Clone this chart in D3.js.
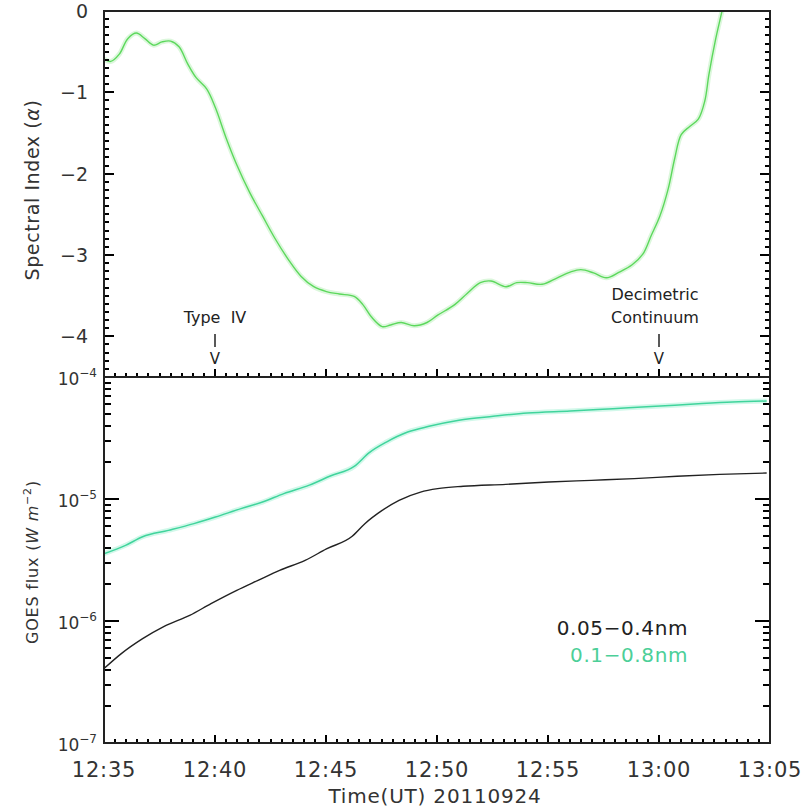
<!DOCTYPE html>
<html>
<head>
<meta charset="utf-8">
<script src="https://cdn.jsdelivr.net/npm/d3@7"></script>
<style>
  body { margin: 0; background: #fff; }
  text { font-family: "DejaVu Sans", sans-serif; fill: #333; }
</style>
</head>
<body>
<svg id="chart" width="802" height="809"></svg>
<script>
// minutes after 12:35 UT
const alphaTime = [0, 0.30, 0.69, 1.07, 1.46, 1.84, 2.23, 2.61, 3.0, 3.38, 3.77, 4.15, 4.63, 5.02, 5.50, 5.98, 6.56, 7.14, 7.71, 8.29, 8.87, 9.45, 10.02, 10.6, 11.27, 11.66, 12.04, 12.53, 12.91, 13.39, 13.97, 14.55, 15.03, 15.80, 16.37, 16.95, 17.43, 18.11, 18.59, 19.07, 19.74, 20.42, 21.0, 21.48, 22.05, 22.63, 23.21, 23.79, 24.27, 24.65, 25.04, 25.42, 25.71, 26.0, 26.38, 26.77, 27.06, 27.25, 27.54, 27.83, 28.0];
const alphaValue = [-0.59, -0.62, -0.53, -0.34, -0.27, -0.34, -0.42, -0.38, -0.37, -0.44, -0.65, -0.82, -0.96, -1.19, -1.56, -1.89, -2.23, -2.52, -2.80, -3.05, -3.26, -3.39, -3.45, -3.48, -3.51, -3.61, -3.76, -3.88, -3.86, -3.83, -3.87, -3.83, -3.74, -3.61, -3.47, -3.34, -3.32, -3.39, -3.34, -3.34, -3.36, -3.28, -3.21, -3.18, -3.22, -3.28, -3.21, -3.12, -2.99, -2.76, -2.52, -2.18, -1.81, -1.52, -1.42, -1.33, -1.11, -0.78, -0.36, -0.01, 0.20];

// GOES 0.1-0.8nm
const longTime = [0, 0.97, 1.74, 2.9, 4.05, 5.02, 6.17, 7.14, 8.1, 9.25, 10.22, 11.27, 11.95, 12.72, 13.68, 14.64, 15.99, 17.53, 19.07, 21.0, 22.92, 24.85, 26.77, 28.31, 29.85];
const longFlux = [3.56e-6, 4.17e-6, 4.90e-6, 5.53e-6, 6.28e-6, 7.11e-6, 8.34e-6, 9.44e-6, 1.107e-5, 1.30e-5, 1.55e-5, 1.85e-5, 2.40e-5, 2.93e-5, 3.54e-5, 3.94e-5, 4.42e-5, 4.76e-5, 5.07e-5, 5.26e-5, 5.50e-5, 5.75e-5, 6.04e-5, 6.24e-5, 6.35e-5];

// GOES 0.05-0.4nm
const shortTime = [0, 0.78, 1.74, 2.71, 3.86, 4.82, 5.98, 6.94, 7.91, 9.06, 10.02, 11.18, 11.75, 12.53, 13.29, 14.26, 15.03, 16.18, 18.1, 20.03, 21.95, 23.88, 25.81, 27.73, 29.85];
const shortFlux = [4.07e-7, 5.40e-7, 7.16e-7, 9.04e-7, 1.112e-6, 1.387e-6, 1.782e-6, 2.153e-6, 2.60e-6, 3.14e-6, 3.90e-6, 4.95e-6, 6.28e-6, 8.07e-6, 9.75e-6, 1.140e-5, 1.216e-5, 1.271e-5, 1.318e-5, 1.377e-5, 1.422e-5, 1.469e-5, 1.535e-5, 1.592e-5, 1.633e-5];

const timeTicks = [0, 5, 10, 15, 20, 25, 30];
const timeLabels = ["12:35", "12:40", "12:45", "12:50", "12:55", "13:00", "13:05"];
const alphaTicks = [0, -1, -2, -3, -4];
const fluxTicks = [1e-7, 1e-6, 1e-5, 1e-4];
const fluxExp = ["−7", "−6", "−5", "−4"];

// event markers
const eventTime = [5, 25];
const eventLabel = [["Type  IV"], ["Decimetric", "Continuum"]];

const svg = d3.select("#chart");

const left = 104, right = 770, top1 = 11, mid = 377, bottom = 743;

const x = d3.scaleLinear().domain([0, 30]).range([left, right]);
const yTop = d3.scaleLinear().domain([-4.5, 0]).range([mid, top1]);
const yBot = d3.scaleLog().domain([1e-7, 1e-4]).range([bottom, mid]);

svg.append("rect").attr("width", 802).attr("height", 809).attr("fill", "#fff");

svg.append("defs").append("clipPath").attr("id", "clipTop")
  .append("rect").attr("x", left).attr("y", top1).attr("width", right - left).attr("height", mid - top1);

// ---- top panel curve
const alphaData = alphaTime.map((t, i) => [t, alphaValue[i]]);
const alphaLine = d3.line().x(d => x(d[0])).y(d => yTop(d[1])).curve(d3.curveCatmullRom);

const topG = svg.append("g").attr("clip-path", "url(#clipTop)");
topG.append("path").attr("d", alphaLine(alphaData))
  .attr("fill", "none").attr("stroke", "#dcf7dc").attr("stroke-width", 5);
topG.append("path").attr("d", alphaLine(alphaData))
  .attr("fill", "none").attr("stroke", "#5cd85c").attr("stroke-width", 1.4);

// ---- bottom panel curves
const fluxLine = d3.line().x(d => x(d[0])).y(d => yBot(d[1])).curve(d3.curveMonotoneX);
const longData = longTime.map((t, i) => [t, longFlux[i]]);
const shortData = shortTime.map((t, i) => [t, shortFlux[i]]);

svg.append("path").attr("d", fluxLine(longData))
  .attr("fill", "none").attr("stroke", "#d2f8ea").attr("stroke-width", 5);
svg.append("path").attr("d", fluxLine(longData))
  .attr("fill", "none").attr("stroke", "#40d49c").attr("stroke-width", 1.5);
svg.append("path").attr("d", fluxLine(shortData))
  .attr("fill", "none").attr("stroke", "#222").attr("stroke-width", 1.4);

// ---- ticks (drawn by hand so they point inward)
const minorAlpha = d3.range(-45, 1).map(d => d / 10);
const minorTime = d3.range(0, 61).map(d => d / 2);
const minorFlux = [];
[-7, -6, -5].forEach(k => d3.range(2, 10).forEach(m => minorFlux.push(m * Math.pow(10, k))));

const tickG = svg.append("g");

function yTicks(scale, values, len) {
  [[left, 1], [right, -1]].forEach(([px, dir]) => {
    tickG.selectAll(null).data(values).enter().append("line")
      .attr("x1", px).attr("x2", px + dir * len)
      .attr("y1", d => Math.round(scale(d))).attr("y2", d => Math.round(scale(d)))
      .attr("stroke", "#000").attr("stroke-width", 2);
  });
}
function xTicks(y0, values, len) {
  tickG.selectAll(null).data(values).enter().append("line")
    .attr("x1", d => Math.round(x(d))).attr("x2", d => Math.round(x(d)))
    .attr("y1", y0).attr("y2", y0 - len)
    .attr("stroke", "#000").attr("stroke-width", 2);
}

yTicks(yTop, minorAlpha, 5);
yTicks(yTop, alphaTicks, 10);
yTicks(yBot, minorFlux, 7);
yTicks(yBot, fluxTicks, 15);
xTicks(mid, minorTime, 4);
xTicks(mid, timeTicks, 8);
xTicks(bottom, minorTime, 4);
xTicks(bottom, timeTicks, 8);

// ---- tick labels
svg.append("g").selectAll("text").data(alphaTicks).enter().append("text")
  .attr("x", 88).attr("y", d => yTop(d) + 7)
  .attr("text-anchor", "end").attr("font-size", 19)
  .text(d => d === 0 ? "0" : "−" + Math.abs(d));

svg.append("g").selectAll("text").data(timeTicks).enter().append("text")
  .attr("x", d => x(d)).attr("y", 777)
  .attr("text-anchor", "middle").attr("font-size", 21).attr("letter-spacing", 0.8)
  .text((d, i) => timeLabels[i]);

// log labels 10^n
const fluxLab = svg.append("g").selectAll("text").data(fluxTicks).enter()
  .append("text")
  .attr("x", 97)
  .attr("y", d => yBot(d) + 8)
  .attr("text-anchor", "end")
  .attr("font-size", 17);
fluxLab.append("tspan").text("10");
fluxLab.append("tspan").attr("font-size", 12).attr("dy", -8).text((d, i) => fluxExp[i]);

// frames
svg.append("rect").attr("x", left).attr("y", top1).attr("width", right - left).attr("height", bottom - top1)
  .attr("fill", "none").attr("stroke", "#222").attr("stroke-width", 2);
svg.append("line").attr("x1", left).attr("x2", right).attr("y1", mid).attr("y2", mid)
  .attr("stroke", "#222").attr("stroke-width", 2);

// axis titles
svg.append("text")
  .attr("transform", "translate(39,190) rotate(-90)")
  .attr("text-anchor", "middle").attr("font-size", 19).attr("letter-spacing", 0.6)
  .call(t => {
    t.append("tspan").text("Spectral Index (");
    t.append("tspan").attr("font-style", "italic").text("α");
    t.append("tspan").text(")");
  });

svg.append("text")
  .attr("transform", "translate(38,562) rotate(-90)")
  .attr("text-anchor", "middle").attr("font-size", 16).attr("letter-spacing", 0.8)
  .call(t => {
    t.append("tspan").text("GOES flux (");
    t.append("tspan").attr("font-style", "italic").text("W m");
    t.append("tspan").attr("font-size", 11).attr("dy", -7).text("−2");
    t.append("tspan").attr("dy", 7).text(")");
  });

svg.append("text")
  .attr("x", 435).attr("y", 803)
  .attr("text-anchor", "middle").attr("font-size", 20).attr("letter-spacing", 0.8)
  .text("Time(UT)  20110924");

// legend
svg.append("text").attr("x", 688).attr("y", 635).attr("text-anchor", "end")
  .attr("font-size", 20).attr("letter-spacing", 0.6).style("fill", "#222").text("0.05−0.4nm");
svg.append("text").attr("x", 688).attr("y", 662).attr("text-anchor", "end")
  .attr("font-size", 20).attr("letter-spacing", 0.6).style("fill", "#4ccf98").text("0.1−0.8nm");

// event markers
eventTime.forEach((t, i) => {
  const cx = x(t);
  const lines = eventLabel[i];
  lines.forEach((s, j) => {
    svg.append("text").attr("x", cx - 4 * i).attr("y", 323 - (lines.length - 1 - j) * 23)
      .attr("text-anchor", "middle").attr("font-size", 16).attr("font-family", "Liberation Sans")
      .style("white-space", "pre")
      .style("fill", "#222").text(s);
  });
  svg.append("line").attr("x1", cx).attr("x2", cx).attr("y1", 334).attr("y2", 347)
    .attr("stroke", "#222").attr("stroke-width", 1.5);
  svg.append("text").attr("x", cx).attr("y", 364).attr("text-anchor", "middle")
    .attr("font-size", 15).attr("font-family", "Liberation Sans").style("fill", "#222").text("V");
});
</script>
</body>
</html>
